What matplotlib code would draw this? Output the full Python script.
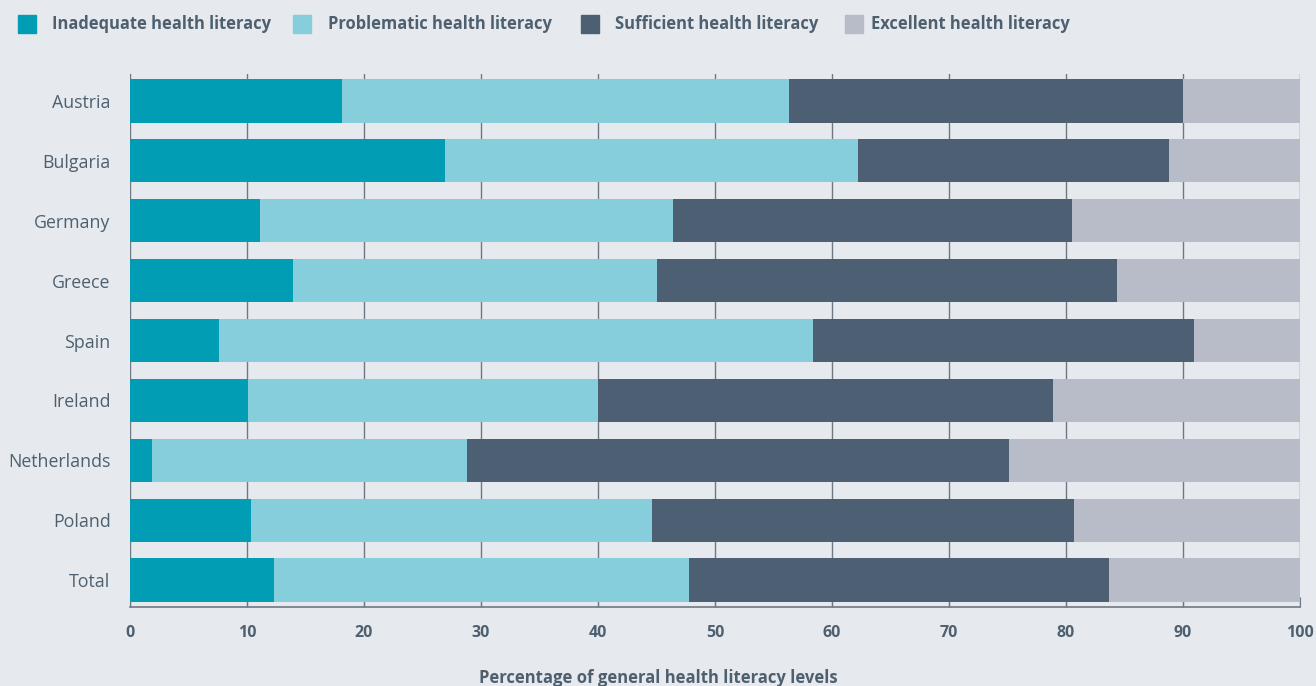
import matplotlib
matplotlib.use("Agg")
import matplotlib.pyplot as plt
from matplotlib.patches import Rectangle

countries = ["Austria", "Bulgaria", "Germany", "Greece", "Spain",
             "Ireland", "Netherlands", "Poland", "Total"]
inadequate = [18.1, 26.9, 11.1, 13.9, 7.6, 10.1, 1.9, 10.3, 12.3]
problematic = [38.2, 35.3, 35.3, 31.1, 50.8, 29.9, 26.9, 34.3, 35.5]
sufficient = [33.7, 26.6, 34.1, 39.4, 32.5, 38.9, 46.3, 36.1, 35.9]
excellent = [10.0, 11.2, 19.5, 15.6, 9.1, 21.1, 24.9, 19.3, 16.3]
series_names = ["Inadequate health literacy", "Problematic health literacy",
                "Sufficient health literacy", "Excellent health literacy"]
xticks = [0, 10, 20, 30, 40, 50, 60, 70, 80, 90, 100]

colors = ["#009db5", "#87cedc", "#4d6073", "#b7bcc8"]
bg = "#e6e9ee"
txt = "#4e6070"
W, H = 1316, 686

plt.rcParams["font.family"] = ["Open Sans", "DejaVu Sans"]

fig = plt.figure(figsize=(W / 100, H / 100), dpi=100, facecolor=bg)
ax = fig.add_axes([130 / W, (H - 607) / H, 1170 / W, 533 / H], facecolor=bg)

left = [0.0] * len(countries)
for vals, c in zip([inadequate, problematic, sufficient, excellent], colors):
    ax.barh(range(len(countries)), vals, left=left, height=0.72, color=c,
            zorder=2)
    left = [a + b for a, b in zip(left, vals)]

ax.set_xlim(0, 100)
ax.set_ylim(8.45, -0.45)
ax.set_yticks(range(len(countries)))
ax.set_yticklabels(countries, fontsize=12.8, color=txt)
ax.tick_params(axis="y", length=0, pad=14)
ax.set_xticks(xticks)
ax.set_xticklabels([str(t) for t in xticks], fontsize=11.5, color=txt,
                   fontweight="bold")
ax.tick_params(axis="x", direction="in", length=7, color="#6e7883", pad=13)
ax.grid(axis="x", color="#6e7883", linewidth=1, zorder=0)
for s in ["left", "right", "top"]:
    ax.spines[s].set_visible(False)
ax.spines["bottom"].set_color("#6e7883")
ax.spines["bottom"].set_linewidth(1.2)

# legend drawn by hand along the top (pixel positions)
box_x = [18, 293, 581, 845]
text_x = [52, 328, 615, 871]
for x0, tx, name, c in zip(box_x, text_x, series_names, colors):
    fig.patches.append(Rectangle((x0 / W, (H - 33) / H), 18 / W, 18 / H,
                                 transform=fig.transFigure, color=c))
    fig.text(tx / W, (H - 24) / H, name, fontsize=11.9,
             fontweight="bold", color=txt, va="center", ha="left")

fig.text(0.5, (H - 678) / H, "Percentage of general health literacy levels",
         fontsize=12, fontweight="bold", color=txt, ha="center", va="center")

fig.savefig("out.png", dpi=100, facecolor=bg)
